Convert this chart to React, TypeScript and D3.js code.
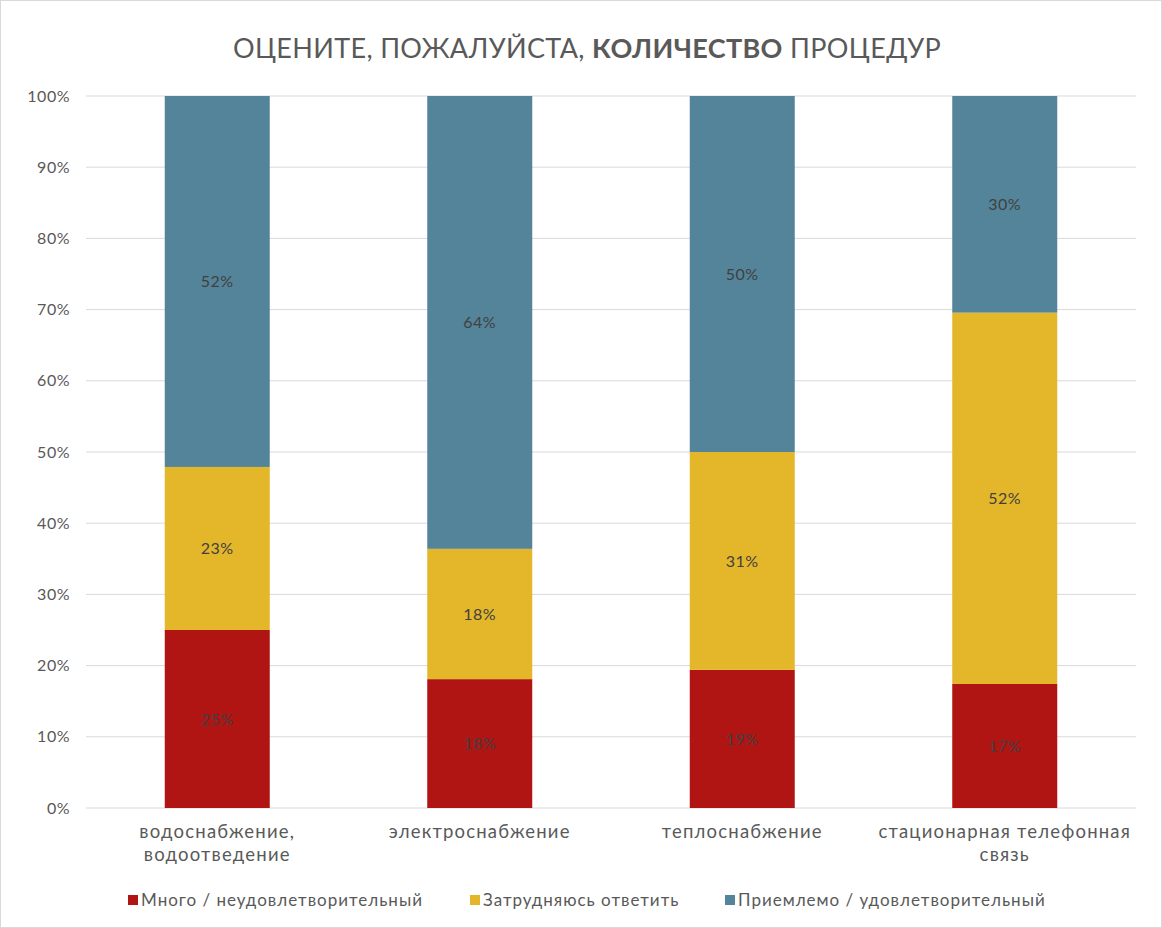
import React, { useEffect, useRef } from "react";
import * as d3 from "d3";

const categories = [
  ["водоснабжение,", "водоотведение"],
  ["электроснабжение"],
  ["теплоснабжение"],
  ["стационарная телефонная", "связь"],
];
const seriesNames = [
  "Много / неудовлетворительный",
  "Затрудняюсь ответить",
  "Приемлемо / удовлетворительный",
];
const seriesColors = ["#B01513", "#E4B72A", "#548499"];
const many = [25.0, 18.1, 19.4, 17.4];
const unsure = [22.9, 18.3, 30.6, 52.1];
const ok = [52.1, 63.6, 50.0, 30.4];
const yTicks = [0, 10, 20, 30, 40, 50, 60, 70, 80, 90, 100];

const W = 1162;
const H = 928;
const FONT = "'Lato', 'Open Sans', sans-serif";

export default function App() {
  const svgRef = useRef<SVGSVGElement | null>(null);

  useEffect(() => {
    document.body.style.margin = "0";
    if (!svgRef.current) return;
    const svg = d3.select(svgRef.current);
    svg.selectAll("*").remove();

    const margin = { top: 96, right: 26, bottom: 120, left: 86 };
    const x = d3
      .scaleBand<number>()
      .domain(d3.range(categories.length))
      .range([margin.left, W - margin.right])
      .paddingInner(0.6)
      .paddingOuter(0.3);
    const y = d3.scaleLinear().domain([0, 100]).range([H - margin.bottom, margin.top]);

    svg.append("rect")
      .attr("x", 0.5).attr("y", 0.5)
      .attr("width", W - 1).attr("height", H - 1)
      .attr("fill", "#fff").attr("stroke", "#d9d9d9");

    // title
    const title = svg.append("text")
      .attr("x", W / 2 + 6).attr("y", 58)
      .attr("text-anchor", "middle")
      .style("font-family", FONT).style("font-size", "27px")
      .style("letter-spacing", "0.35px")
      .style("fill", "#595959");
    title.append("tspan").text("ОЦЕНИТЕ, ПОЖАЛУЙСТА, ");
    title.append("tspan").style("font-weight", "bold").text("КОЛИЧЕСТВО");
    title.append("tspan").text(" ПРОЦЕДУР");

    // grid
    svg.append("g")
      .selectAll("line")
      .data(yTicks)
      .enter()
      .append("line")
      .attr("x1", margin.left).attr("x2", W - margin.right)
      .attr("y1", (d) => y(d)).attr("y2", (d) => y(d))
      .attr("stroke", "#d9d9d9").attr("stroke-width", 1);

    svg.append("g")
      .selectAll("text")
      .data(yTicks)
      .enter()
      .append("text")
      .attr("x", 70).attr("y", (d) => y(d))
      .attr("dy", "0.35em")
      .attr("text-anchor", "end")
      .style("font-family", FONT).style("font-size", "16px")
      .style("letter-spacing", "0.5px")
      .style("fill", "#595959")
      .text((d) => d + "%");

    const rows = categories.map((_, i) => ({ i, many: many[i], unsure: unsure[i], ok: ok[i] }));
    const stack = d3.stack<any>().keys(["many", "unsure", "ok"]).offset(d3.stackOffsetExpand);
    const layers = stack(rows);

    layers.forEach((layer, si) => {
      const g = svg.append("g");
      g.selectAll("rect")
        .data(layer)
        .enter()
        .append("rect")
        .attr("x", (d) => x(d.data.i)!)
        .attr("width", x.bandwidth())
        .attr("y", (d) => y(d[1] * 100))
        .attr("height", (d) => y(d[0] * 100) - y(d[1] * 100))
        .attr("fill", seriesColors[si]);
      g.selectAll("text")
        .data(layer)
        .enter()
        .append("text")
        .attr("x", (d) => x(d.data.i)! + x.bandwidth() / 2)
        .attr("y", (d) => y(((d[0] + d[1]) / 2) * 100))
        .attr("dy", "0.35em")
        .attr("text-anchor", "middle")
        .style("font-family", FONT).style("font-size", "16px")
        .style("letter-spacing", "0.5px")
        .style("fill", "#404040")
        .text((d) => Math.round(d.data[layer.key]) + "%");
    });

    // category labels
    const cat = svg.append("g");
    categories.forEach((lines, i) => {
      const cx = x(i)! + x.bandwidth() / 2;
      const t = cat.append("text")
        .attr("x", cx)
        .attr("y", 838)
        .attr("text-anchor", "middle")
        .style("font-family", FONT).style("font-size", "18.5px")
        .style("letter-spacing", "1.2px")
        .style("fill", "#595959");
      lines.forEach((l, li) => {
        t.append("tspan").attr("x", cx).attr("dy", li === 0 ? 0 : 23).text(l);
      });
    });

    // legend
    const legendX = [128, 470, 725];
    const lg = svg.append("g");
    seriesNames.forEach((name, i) => {
      lg.append("rect")
        .attr("x", legendX[i]).attr("y", 895)
        .attr("width", 10).attr("height", 10)
        .attr("fill", seriesColors[i]);
      lg.append("text")
        .attr("x", legendX[i] + 13).attr("y", 900)
        .attr("dy", "0.35em")
        .style("font-family", FONT).style("font-size", "17px")
        .style("letter-spacing", "1px")
        .style("fill", "#595959")
        .text(name);
    });
  }, []);

  return <svg ref={svgRef} width={W} height={H} style={{ display: "block" }} />;
}
